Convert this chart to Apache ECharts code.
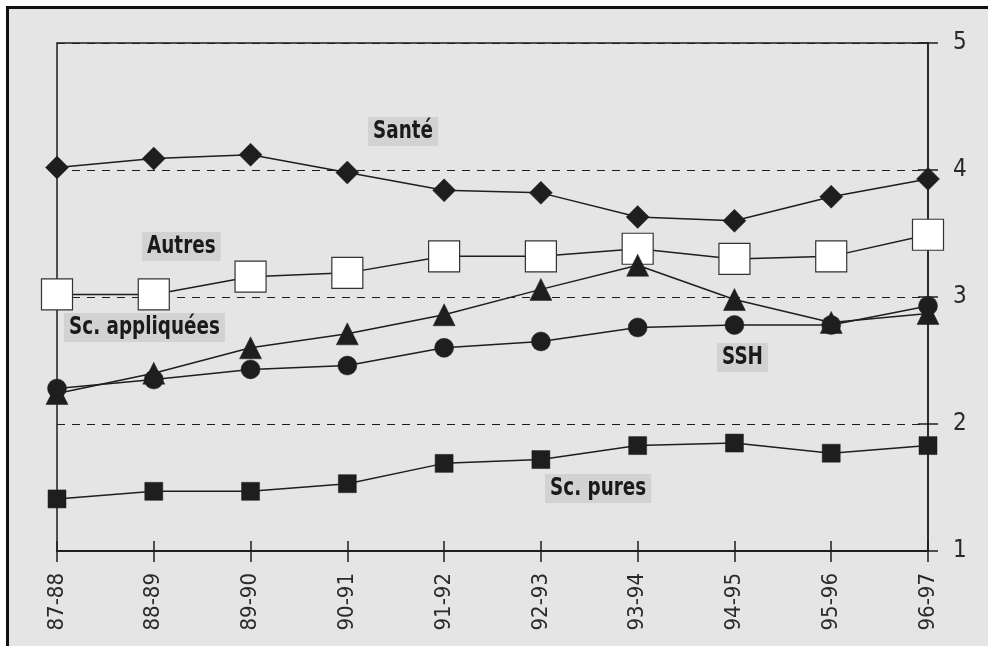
<!DOCTYPE html>
<html>
<head>
<meta charset="utf-8">
<script src="https://cdn.jsdelivr.net/npm/echarts@6/dist/echarts.min.js"></script>
<style>
  html, body { margin: 0; padding: 0; background: #ffffff; overflow: hidden; }
  #frame { position: absolute; left: 6px; top: 6px; width: 982px; height: 640px; background: #e5e5e5;
           border-left: 3px solid #111; border-top: 3px solid #111; box-sizing: border-box; }
  #chart { position: absolute; left: 0; top: 0; width: 988px; height: 646px; }
</style>
</head>
<body>
<div id="frame"></div>
<div id="chart"></div>
<script>
// Academic years on the horizontal axis
const years = ['87-88', '88-89', '89-90', '90-91', '91-92', '92-93', '93-94', '94-95', '95-96', '96-97'];

// One series per field
const sante = [4.02, 4.09, 4.12, 3.98, 3.84, 3.82, 3.63, 3.60, 3.79, 3.93];
const autres = [3.02, 3.02, 3.16, 3.19, 3.32, 3.32, 3.38, 3.30, 3.32, 3.49];
const scAppliquees = [2.24, 2.40, 2.60, 2.71, 2.86, 3.06, 3.25, 2.98, 2.80, 2.87];
const ssh = [2.28, 2.35, 2.43, 2.46, 2.60, 2.65, 2.76, 2.78, 2.78, 2.93];
const scPures = [1.41, 1.47, 1.47, 1.53, 1.69, 1.72, 1.83, 1.85, 1.77, 1.83];

// Value axis ticks
const yTicks = [1, 2, 3, 4, 5];

const FONT = '"Liberation Sans Narrow", "DejaVu Sans Condensed", "Arial Narrow", sans-serif';
const INK = '#1e1e1e';

const chart = echarts.init(document.getElementById('chart'), null, { renderer: 'canvas' });

function lineSeries(name, data, symbol, size, fill) {
  const hollow = fill === '#ffffff';
  return {
    name: name,
    type: 'line',
    data: data,
    symbol: symbol,
    symbolSize: size,
    showAllSymbol: true,
    lineStyle: { color: INK, width: 1.5 },
    itemStyle: { color: fill, borderColor: hollow ? '#333' : INK, borderWidth: hollow ? 1.2 : 0.5 },
    emphasis: { disabled: true },
    animation: false
  };
}

// Grey-boxed series name, set in a condensed bold face
function tag(text, x, y) {
  return {
    type: 'text',
    x: x,
    y: y,
    scaleX: 0.85,
    z: 10,
    style: {
      text: text,
      font: 'bold 24px ' + FONT,
      fill: '#1a1a1a',
      backgroundColor: '#d2d2d2',
      padding: [3, 6, 2, 6]
    }
  };
}

chart.setOption({
  backgroundColor: 'transparent',
  animation: false,
  grid: {
    left: 57, right: 60, top: 43, bottom: 95,
    show: true, borderColor: INK, borderWidth: 1.5, backgroundColor: 'transparent'
  },
  xAxis: [
    {
      type: 'category',
      data: years,
      boundaryGap: false,
      axisLine: { show: true, lineStyle: { color: INK, width: 2 } },
      axisTick: { show: true, inside: false, length: 11, alignWithLabel: true, lineStyle: { color: INK, width: 1.5 } },
      axisLabel: { rotate: 90, margin: 22, fontFamily: FONT, fontSize: 22, color: '#2a2a2a' },
      splitLine: { show: false }
    },
    {
      type: 'category',
      data: years,
      boundaryGap: false,
      position: 'bottom',
      axisLine: { show: false },
      axisTick: { show: true, inside: true, length: 10, lineStyle: { color: INK, width: 1.5 } },
      axisLabel: { show: false },
      splitLine: { show: false }
    }
  ],
  yAxis: [
    {
      type: 'value',
      position: 'right',
      min: yTicks[0], max: yTicks[yTicks.length - 1], interval: 1,
      axisLine: { show: true, lineStyle: { color: INK, width: 1.5 } },
      axisTick: { show: true, inside: false, length: 10, lineStyle: { color: INK, width: 1.5 } },
      axisLabel: { margin: 25, fontFamily: FONT, fontSize: 24, color: '#2a2a2a', padding: [0, 0, 8, 0] },
      splitLine: { show: true, lineStyle: { color: INK, width: 1.2, type: [8, 7] } }
    },
    {
      type: 'value',
      position: 'right',
      min: yTicks[0], max: yTicks[yTicks.length - 1], interval: 1,
      axisLine: { show: false },
      axisTick: { show: true, inside: true, length: 10, lineStyle: { color: INK, width: 1.5 } },
      axisLabel: { show: false },
      splitLine: { show: false }
    }
  ],
  series: [
    lineSeries('Sc. pures', scPures, 'rect', 18, INK),
    lineSeries('Santé', sante, 'diamond', 23, INK),
    lineSeries('Autres', autres, 'rect', 31, '#ffffff'),
    lineSeries('SSH', ssh, 'circle', 19, INK),
    lineSeries('Sc. appliquées', scAppliquees, 'triangle', 22, INK)
  ],
  graphic: [
    tag('Santé', 368, 117),
    tag('Autres', 142, 232),
    tag('Sc. appliquées', 64, 313),
    tag('SSH', 717, 343),
    tag('Sc. pures', 545, 474)
  ]
});
</script>
</body>
</html>
